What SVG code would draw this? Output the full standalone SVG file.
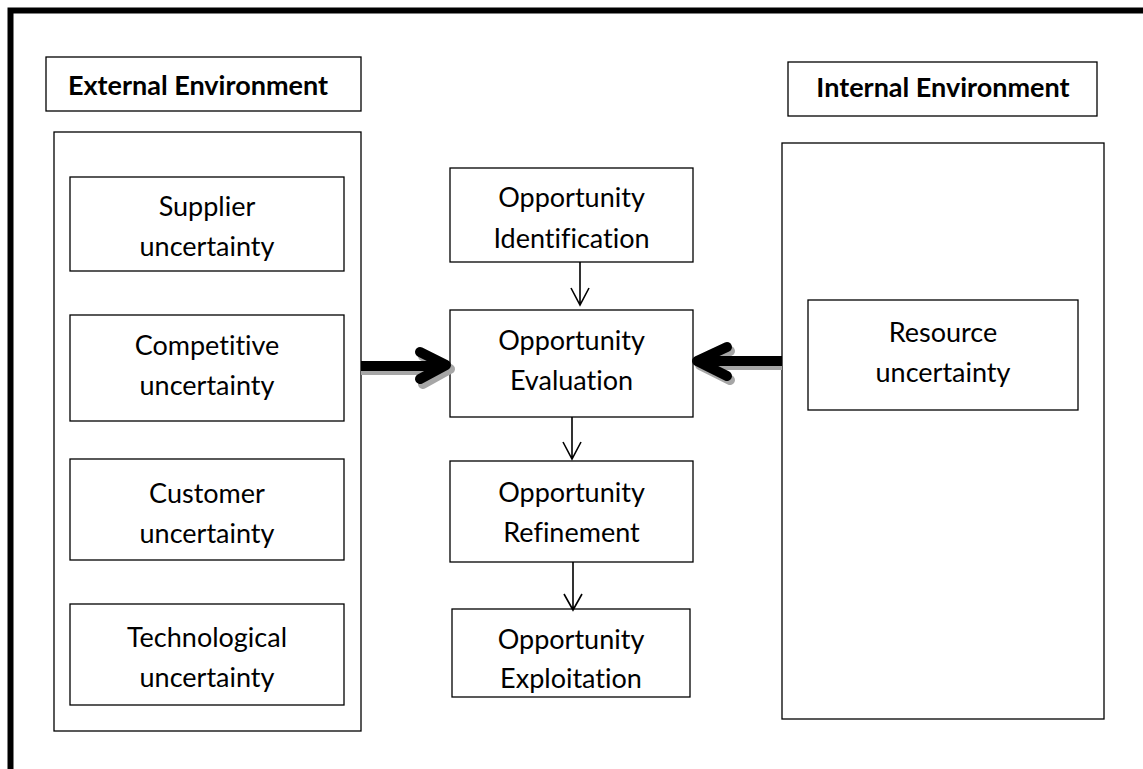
<svg xmlns="http://www.w3.org/2000/svg" width="1143" height="769" viewBox="0 0 1143 769">
<style>
.box{fill:#fff;stroke:#000;stroke-width:1.3}
.t{font-family:Lato,"Liberation Sans",sans-serif;font-size:27px;fill:#000;text-anchor:middle;font-variant-ligatures:none}
.h{font-family:Lato,"Liberation Sans",sans-serif;font-size:27px;font-weight:bold;fill:#000;text-anchor:middle;font-variant-ligatures:none}
.thin{fill:none;stroke:#000;stroke-width:1.6}
.big{fill:none;stroke:#000;stroke-width:10;stroke-linecap:round;stroke-linejoin:round}
.bigs{fill:none;stroke:#000;stroke-width:10}
.shadow{fill:none;stroke:#a6a6a6;stroke-width:10;stroke-linecap:round;stroke-linejoin:round}
.shadows{fill:none;stroke:#a6a6a6;stroke-width:10}
</style>
<rect width="1143" height="769" fill="#fff"/>
<path d="M10.5,769 V10.5 H1143" fill="none" stroke="#000" stroke-width="6"/>

<g id="external-header"><rect class="box" x="46" y="57" width="315" height="54"/><text class="h" x="198" y="95">External Environment</text></g>
<g id="external-env"><rect class="box" x="54" y="132" width="307" height="599"/></g>
<g id="supplier"><rect class="box" x="70" y="177" width="274" height="94"/><text class="t" x="207" y="216">Supplier</text><text class="t" x="207" y="256">uncertainty</text></g>
<g id="competitive"><rect class="box" x="70" y="315" width="274" height="106"/><text class="t" x="207" y="355">Competitive</text><text class="t" x="207" y="395">uncertainty</text></g>
<g id="customer"><rect class="box" x="70" y="459" width="274" height="101"/><text class="t" x="207" y="503">Customer</text><text class="t" x="207" y="543">uncertainty</text></g>
<g id="technological"><rect class="box" x="70" y="604" width="274" height="101"/><text class="t" x="207" y="647">Technological</text><text class="t" x="207" y="687">uncertainty</text></g>

<g id="internal-header"><rect class="box" x="788" y="62" width="309" height="54"/><text class="h" x="943" y="97">Internal Environment</text></g>
<g id="internal-env"><rect class="box" x="782" y="143" width="322" height="576"/></g>
<g id="resource"><rect class="box" x="808" y="300" width="270" height="110"/><text class="t" x="943" y="342">Resource</text><text class="t" x="943" y="382">uncertainty</text></g>

<g id="identification"><rect class="box" x="450" y="168" width="243" height="94"/><text class="t" x="571.5" y="207">Opportunity</text><text class="t" x="571.5" y="248">Identification</text></g>
<g id="evaluation"><rect class="box" x="450" y="310" width="243" height="107"/><text class="t" x="571.5" y="350">Opportunity</text><text class="t" x="571.5" y="390">Evaluation</text></g>
<g id="refinement"><rect class="box" x="450" y="461" width="243" height="101"/><text class="t" x="571.5" y="502">Opportunity</text><text class="t" x="571.5" y="542">Refinement</text></g>
<g id="exploitation"><rect class="box" x="452" y="609" width="238" height="88"/><text class="t" x="571" y="649">Opportunity</text><text class="t" x="571" y="688">Exploitation</text></g>

<g id="connectors">
<path class="thin" d="M580,262 V305 M571,288 L580,305 L589,288"/>
<path class="thin" d="M572,417 V459 M563,442 L572,459 L581,442"/>
<path class="thin" d="M573,562 V610 M564,594 L573,610 L582,594"/>
<path class="shadows" d="M361,370 H445"/>
<path class="shadow" d="M423,356 L450,369 L423,384"/>
<path class="bigs" d="M361,366 H442"/>
<path class="big" d="M420,352 L446,365 L420,379"/>
<path class="shadows" d="M782,365 H704"/>
<path class="shadow" d="M730,351 L700,365 L730,380"/>
<path class="bigs" d="M782,361 H700"/>
<path class="big" d="M727,347 L697,361 L727,376"/>
</g>
</svg>
